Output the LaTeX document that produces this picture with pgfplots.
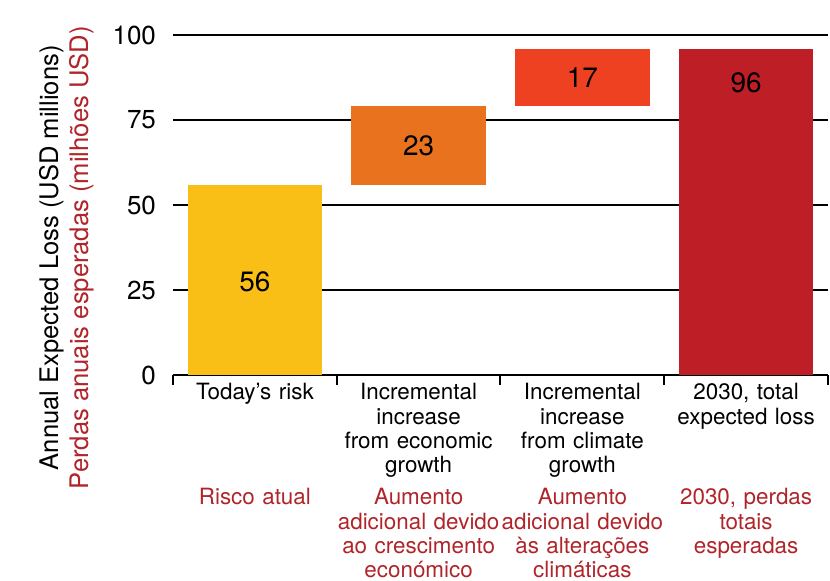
\documentclass[border=0pt]{standalone}
\usepackage{pgfplots}
\pgfplotsset{compat=1.18}
\usepackage{fontspec}
\setmainfont{TeX Gyre Heros}
\definecolor{cyellow}{HTML}{F9BF16}
\definecolor{corange}{HTML}{E8721E}
\definecolor{cred}{HTML}{EE4122}
\definecolor{cdark}{HTML}{BE1E25}
\definecolor{ptred}{HTML}{B0242A}
\newcommand{\catfont}{\fontsize{11.2}{12.2}\selectfont}
\tikzset{cat/.style={anchor=north, align=center, text width=84pt, inner sep=0pt, font=\catfont},
  val/.style={font=\fontsize{14}{14}\selectfont}}
\begin{document}
\begin{tikzpicture}
\begin{axis}[name=ax, scale only axis, width=327.5pt, height=170pt,
  xmin=-0.5, xmax=3.5, ymin=0, ymax=100,
  ybar stacked, bar width=0.82,
  ytick={0,25,50,75,100},
  ymajorgrids, grid style={black, line width=1.2pt},
  xtick={-0.5,0.5,1.5,2.5,3.5}, xticklabels={},
  tick pos=left, tick align=outside,
  separate axis lines,
  x axis line style={black, line width=1.4pt},
  y axis line style={draw=none},
  xtick style={black, line width=1pt},
  ytick style={draw=none},
  major tick length=5pt,
  /pgf/number format/assume math mode=true,
  yticklabel style={font=\fontsize{13}{13}\selectfont},
  ylabel={Annual Expected Loss (USD millions)\\\textcolor{ptred}{Perdas anuais esperadas (milhões USD)}},
  ylabel style={align=center, font=\fontsize{12.8}{15}\selectfont, at={(ticklabel cs:0.345)}},
  ylabel shift=2.5pt,
]
\addplot[fill=white, fill opacity=0, draw=none] coordinates {(0,0) (1,56) (2,79) (3,0)};
\addplot[fill=cyellow, draw=none] coordinates {(0,56) (1,0) (2,0) (3,0)};
\addplot[fill=corange, draw=none] coordinates {(0,0) (1,23) (2,0) (3,0)};
\addplot[fill=cred, draw=none] coordinates {(0,0) (1,0) (2,17) (3,0)};
\addplot[fill=cdark, draw=none] coordinates {(0,0) (1,0) (2,0) (3,96)};
\coordinate (v0) at (axis cs:0,27.5);
\coordinate (v1) at (axis cs:1,67.5);
\coordinate (v2) at (axis cs:2,87.5);
\coordinate (v3) at (axis cs:3,86);
\coordinate (c0) at (axis cs:0,0);
\coordinate (c1) at (axis cs:1,0);
\coordinate (c2) at (axis cs:2,0);
\coordinate (c3) at (axis cs:3,0);
\end{axis}
\node[val] at (v0) {56};
\node[val] at (v1) {23};
\node[val] at (v2) {17};
\node[val] at (v3) {96};
\node[cat, yshift=-4pt] at (c0) {Today's risk};
\node[cat, yshift=-4pt] at (c1) {Incremental\\increase\\from economic\\growth};
\node[cat, yshift=-4pt] at (c2) {Incremental\\increase\\from climate\\growth};
\node[cat, yshift=-4pt] at (c3) {2030, total\\expected loss};
\node[cat, yshift=-56.5pt, text=ptred] at (c0) {Risco atual};
\node[cat, yshift=-56.5pt, text=ptred] at (c1) {Aumento\\adicional devido\\ao crescimento\\económico};
\node[cat, yshift=-56.5pt, text=ptred] at (c2) {Aumento\\adicional devido\\às alterações\\climáticas};
\node[cat, yshift=-56.5pt, text=ptred] at (c3) {2030, perdas\\totais\\esperadas};
\pgfresetboundingbox
\path[use as bounding box] ([xshift=-86.5pt,yshift=-102.5pt]ax.south west) rectangle ([xshift=1pt,yshift=17.5pt]ax.north east);
\end{tikzpicture}
\end{document}
